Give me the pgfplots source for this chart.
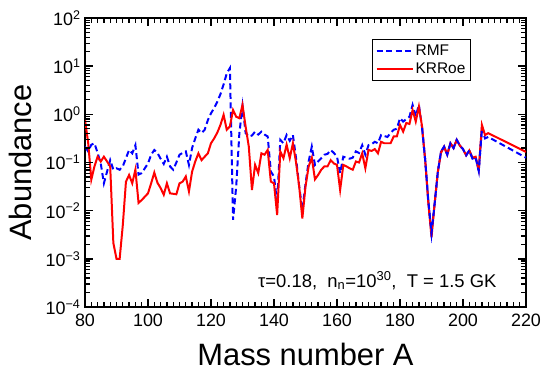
\documentclass[border=0pt]{standalone}
\usepackage{pgfplots}
\pgfplotsset{compat=1.18}
\usepackage{fontspec}
\setmainfont{Liberation Sans}
\begin{document}
\begin{tikzpicture}
\path[use as bounding box] (0bp,0bp) rectangle (550bp,378bp);
\begin{axis}[
  at={(85bp,71bp)}, anchor=south west,
  scale only axis, width=441bp, height=289bp,
  ymode=log,
  xmin=80, xmax=220, ymin=1e-4, ymax=1e2,
  xtick={80,100,...,220},
  xticklabels={80,100,120,140,160,180,200,220},
  minor x tick num=9,
  ytick={1e-4,1e-3,1e-2,1e-1,1e0,1e1,1e2},
  yticklabels={10\textsuperscript{−4},10\textsuperscript{−3},10\textsuperscript{−2},10\textsuperscript{−1},10\textsuperscript{0},10\textsuperscript{1},10\textsuperscript{2}},
  tick align=inside,
  major tick length=8bp, minor tick length=5bp,
  every major tick/.append style={draw=black, line width=1.6pt},
  every minor tick/.append style={draw=black, line width=1.3pt},
  tick label style={font=\fontsize{18}{20}\selectfont},
  xticklabel style={yshift=-3bp},
  yticklabel style={xshift=-1bp},
  xlabel={Mass number A}, ylabel={Abundance},
  label style={font=\fontsize{31}{34}\selectfont},
  xlabel style={at={(axis description cs:0.5,-0.204)}, anchor=base},
  ylabel style={at={(axis description cs:-0.122,0.5)}, anchor=base},
  legend style={at={(rel axis cs:0.875,0.926)}, anchor=north east, draw=black, line width=1pt,
    font=\fontsize{15.5}{19}\selectfont, inner xsep=3bp, inner ysep=3bp, row sep=2bp},
  legend cell align=left,
  legend image code/.code={\draw[#1] (0bp,0bp) -- (36bp,0bp);},
  axis line style={line width=1.6pt},
]
\addplot[blue, line width=2pt, dash pattern=on 6bp off 3.5bp] coordinates {
(80,0.214)(81,0.17)(82,0.234)(83,0.251)(84,0.158)(85,0.0955)(86,0.037)(87,0.0646)(88,0.112)(89,0.0708)
(90,0.0759)(91,0.0708)(92,0.083)(93,0.123)(94,0.182)(95,0.155)(96,0.229)(97,0.0562)(98,0.0603)(99,0.0759)
(100,0.0955)(101,0.145)(102,0.182)(103,0.158)(104,0.12)(105,0.0933)(106,0.132)(107,0.083)(108,0.0708)(109,0.1)
(110,0.145)(111,0.158)(112,0.17)(113,0.0891)(114,0.2)(115,0.316)(116,0.479)(117,0.407)(118,0.479)(119,0.759)
(120,1.05)(121,1.35)(122,1.82)(123,2.63)(124,4.17)(125,7.08)(126,9.12)(127,0.00646)(128,0.0316)(129,0.4)
(130,1.51)(131,0.407)(132,0.347)(133,0.363)(134,0.437)(135,0.38)(136,0.437)(137,0.38)(138,0.347)(139,0.0646)
(140,0.0513)(141,0.0145)(142,0.295)(143,0.251)(144,0.372)(145,0.282)(146,0.372)(147,0.123)(148,0.0316)(149,0.0105)
(150,0.0355)(151,0.105)(152,0.214)(153,0.0891)(154,0.105)(155,0.123)(156,0.145)(157,0.151)(158,0.182)(159,0.158)
(160,0.132)(161,0.0603)(162,0.132)(163,0.126)(164,0.12)(165,0.126)(166,0.17)(167,0.158)(168,0.229)(169,0.145)
(170,0.229)(171,0.24)(172,0.269)(173,0.251)(174,0.372)(175,0.355)(176,0.339)(177,0.407)(178,0.479)(179,0.501)
(180,0.832)(181,0.708)(182,0.794)(183,0.891)(184,1.57)(185,0.912)(186,1.57)(187,0.525)(188,0.112)(189,0.0158)
(190,0.00339)(191,0.0141)(192,0.0631)(193,0.166)(194,0.214)(195,0.145)(196,0.251)(197,0.2)(198,0.295)(199,0.224)
(200,0.19)(201,0.141)(202,0.178)(203,0.12)(204,0.126)(205,0.0661)(206,0.501)(207,0.316)(208,0.339)(220,0.126)
};
\addlegendentry{RMF}
\addplot[red, line width=2pt] coordinates {
(80,0.76)(81,0.26)(82,0.044)(83,0.083)(84,0.132)(85,0.105)(86,0.132)(87,0.105)(88,0.083)(89,0.00214)
(90,0.001)(91,0.001)(92,0.005)(93,0.040)(94,0.055)(95,0.037)(96,0.071)(97,0.0145)(98,0.0166)(99,0.0195)
(100,0.0229)(101,0.037)(102,0.0617)(103,0.038)(104,0.0295)(105,0.0214)(106,0.037)(107,0.0229)(108,0.0224)(109,0.0219)
(110,0.037)(111,0.040)(112,0.0513)(113,0.0251)(114,0.0646)(115,0.105)(116,0.155)(117,0.112)(118,0.132)(119,0.155)
(120,0.251)(121,0.316)(122,0.417)(123,0.603)(124,0.977)(125,0.479)(126,0.562)(127,1.23)(128,0.891)(129,0.832)
(130,1.57)(131,0.55)(132,0.214)(133,0.0269)(134,0.0891)(135,0.0603)(136,0.155)(137,0.145)(138,0.182)(139,0.040)
(140,0.037)(141,0.0081)(142,0.17)(143,0.123)(144,0.234)(145,0.123)(146,0.251)(147,0.1)(148,0.0316)(149,0.0069)
(150,0.0316)(151,0.083)(152,0.126)(153,0.0447)(154,0.055)(155,0.0708)(156,0.083)(157,0.083)(158,0.112)(159,0.0955)
(160,0.0891)(161,0.0269)(162,0.0891)(163,0.083)(164,0.0759)(165,0.0708)(166,0.105)(167,0.1)(168,0.155)(169,0.0759)
(170,0.182)(171,0.174)(172,0.19)(173,0.155)(174,0.269)(175,0.251)(176,0.251)(177,0.251)(178,0.347)(179,0.347)
(180,0.603)(181,0.437)(182,0.661)(183,0.631)(184,1.23)(185,0.708)(186,1.45)(187,0.562)(188,0.112)(189,0.0141)
(190,0.00282)(191,0.0141)(192,0.0631)(193,0.158)(194,0.214)(195,0.145)(196,0.251)(197,0.2)(198,0.295)(199,0.224)
(200,0.19)(201,0.141)(202,0.178)(203,0.126)(204,0.132)(205,0.0708)(206,0.603)(207,0.372)(208,0.407)(220,0.166)
};
\addlegendentry{KRRoe}
\addplot[blue, line width=2pt, dash pattern=on 6bp off 3.5bp, forget plot] coordinates {
(187,0.525)(188,0.112)(189,0.0158)(190,0.00339)(191,0.0141)(192,0.0631)(193,0.166)(194,0.214)(195,0.145)(196,0.251)(197,0.2)(198,0.295)(199,0.224)
(200,0.19)(201,0.141)(202,0.178)(203,0.12)(204,0.126)(205,0.0661)(206,0.501)
};
\node[anchor=base east, font=\fontsize{18.5}{20}\selectfont] at (rel axis cs:0.941,0.069)
  {τ=0.18,\ \ n\textsubscript{n}=10\textsuperscript{30},\ \ T = 1.5 GK};
\end{axis}
\foreach \i in {1,...,69} {
  \pgfmathsetmacro\xx{85+\i*6.3}
  \draw[black, line width=1.3pt] (\xx bp,71bp) -- (\xx bp,76bp);
  \draw[black, line width=1.3pt] (\xx bp,360bp) -- (\xx bp,355bp);
}
\foreach \i in {1,...,6} {
  \pgfmathsetmacro\xx{85+\i*63}
  \draw[black, line width=1.6pt] (\xx bp,71bp) -- (\xx bp,79bp);
  \draw[black, line width=1.6pt] (\xx bp,360bp) -- (\xx bp,352bp);
}
\foreach \j in {0,...,5} {
  \foreach \l in {0.30103,0.47712,0.60206,0.69897,0.77815,0.84510,0.90309,0.95424} {
    \pgfmathsetmacro\yy{71+(\j+\l)*48.16667}
    \draw[black, line width=1.3pt] (85bp,\yy bp) -- (90bp,\yy bp);
    \draw[black, line width=1.3pt] (526bp,\yy bp) -- (521bp,\yy bp);
  }
}
\foreach \j in {1,...,5} {
  \pgfmathsetmacro\yy{71+\j*48.16667}
  \draw[black, line width=1.6pt] (85bp,\yy bp) -- (93bp,\yy bp);
  \draw[black, line width=1.6pt] (526bp,\yy bp) -- (518bp,\yy bp);
}
\end{tikzpicture}
\end{document}
